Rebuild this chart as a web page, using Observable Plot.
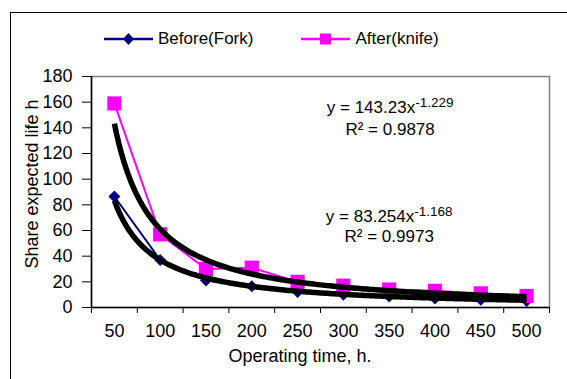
<!DOCTYPE html>
<html>
<head>
<meta charset="utf-8">
<script src="https://cdn.jsdelivr.net/npm/d3@7"></script>
<script src="https://cdn.jsdelivr.net/npm/@observablehq/plot@0.6"></script>
<style>
  html, body { margin: 0; padding: 0; background: #fff; }
  #chart { position: relative; width: 567px; height: 379px; overflow: hidden;
           font-family: "Liberation Sans", Arial, sans-serif; color: #000; }
  #frame { position: absolute; left: 10px; top: 12px; width: 700px; height: 500px;
           border-left: 1px solid #000; border-top: 1px solid #000; }
  #plot svg { position: absolute; left: 0; top: 0; }
  #legend { position: absolute; left: 104px; top: 28px; display: flex; align-items: center;
            font-size: 17px; line-height: 22px; }
  .item { display: flex; align-items: center; margin-right: 48px; }
  .item svg { margin-right: 5px; }
  #ytitle { position: absolute; left: 32px; top: 184px; font-size: 18px; line-height: 20px; white-space: nowrap;
            transform: translate(-50%, -50%) rotate(-90deg); }
  #xtitle { position: absolute; left: 300px; top: 356px; font-size: 18px; line-height: 20px; white-space: nowrap;
            transform: translate(-50%, -50%); }
</style>
</head>
<body>
<div id="chart">
  <div id="frame"></div>
  <div id="plot"></div>
  <div id="legend"></div>
  <div id="ytitle">Share expected life h</div>
  <div id="xtitle">Operating time, h.</div>
</div>
<script>
// Operating time categories (h) and measured share life for each tool
const categories = [50, 100, 150, 200, 250, 300, 350, 400, 450, 500];
const beforeFork = [86.5, 37, 21, 16.5, 12, 10, 8.5, 7, 6, 5];
const afterKnife = [159, 57, 30, 31, 20, 17, 14, 13, 11, 9];
const yTicks = [0, 20, 40, 60, 80, 100, 120, 140, 160, 180];

// Power trendlines y = a·x^b (x = category number 1…10)
const trendNames = ["After(knife)", "Before(Fork)"];
const trendCoef = [143.23, 83.254];
const trendExp = [-1.229, -1.168];
const trendR2 = ["0.9878", "0.9973"];

const navy = "#000080";
const magenta = "#ff00ff";

const points = categories.map((c, i) => ({k: i + 1, before: beforeFork[i], after: afterKnife[i]}));

const curves = trendCoef.flatMap((a, j) =>
  d3.range(1, 10.0001, 0.05).map(k => ({k, v: a * Math.pow(k, trendExp[j]), fit: trendNames[j]}))
);

// equation placement (category position, value) for each trendline label
const labelK = [7.02, 7.0];
const labelV = [[155.5, 138.5], [70.5, 55.5]];
const eqRows = trendCoef.map((a, j) => ({k: labelK[j], v: labelV[j][0], text: `y = ${a}x`, sup: `${trendExp[j]}`}));
const r2Rows = trendR2.map((r, j) => ({k: labelK[j], v: labelV[j][1], text: `R² = ${r}`}));

const plot = Plot.plot({
  width: 567,
  height: 379,
  marginLeft: 91,
  marginRight: 18,
  marginTop: 76,
  marginBottom: 72,
  style: {fontFamily: "'Liberation Sans', Arial, sans-serif", fontSize: "18px", color: "#000", background: "transparent"},
  x: {type: "linear", domain: [0.5, 10.5]},
  y: {domain: [0, 180]},
  marks: [
    Plot.frame({stroke: "#808080", strokeWidth: 1.5}),
    Plot.axisX({ticks: d3.range(1, 11), tickSize: 0, tickPadding: 17,
                tickFormat: k => categories[k - 1], label: null, fontSize: 18}),
    Plot.axisX({ticks: d3.range(0.5, 11, 1), tickSize: 6, tickFormat: () => "", label: null, stroke: "#000"}),
    Plot.axisY({ticks: yTicks, tickSize: 9, tickPadding: 10, label: null, fontSize: 18}),
    Plot.ruleX([0.5], {stroke: "#000", strokeWidth: 1.5}),
    Plot.ruleY([0], {stroke: "#000", strokeWidth: 1.5}),
    Plot.line(points, {x: "k", y: "before", stroke: navy, strokeWidth: 2}),
    Plot.dot(points, {x: "k", y: "before", symbol: "diamond2", r: 5.4, fill: navy, stroke: "none"}),
    Plot.line(points, {x: "k", y: "after", stroke: magenta, strokeWidth: 2}),
    Plot.dot(points, {x: "k", y: "after", symbol: "square", r: 8, fill: magenta, stroke: "none"}),
    Plot.line(curves, {x: "k", y: "v", z: "fit", stroke: "#000", strokeWidth: 5.5, strokeLinecap: "butt"}),
    Plot.text(eqRows, {x: "k", y: "v", text: "text", fontSize: 17, fill: "#000"}),
    Plot.text(r2Rows, {x: "k", y: "v", text: "text", fontSize: 17, fill: "#000"})
  ]
});

// raise the exponent of each power equation
const eqTexts = d3.select(plot).selectAll("text").filter(function() {
  return this.textContent.startsWith("y = ");
});
eqTexts.each(function() {
  const row = eqRows.find(r => r.text === this.textContent);
  if (!row) return;
  d3.select(this).append("tspan")
    .attr("dy", "-0.45em")
    .attr("font-size", 13.5)
    .text(row.sup);
});

document.getElementById("plot").appendChild(plot);

// legend: line with marker, then series name
const legend = d3.select("#legend");
[{name: "Before(Fork)", color: navy, shape: "diamond"}, {name: "After(knife)", color: magenta, shape: "square"}]
  .forEach(s => {
    const item = legend.append("div").attr("class", "item");
    const sw = item.append("svg").attr("width", 49).attr("height", 14);
    sw.append("line").attr("x1", 0).attr("x2", 49).attr("y1", 7).attr("y2", 7)
      .attr("stroke", s.color).attr("stroke-width", 2.5);
    if (s.shape === "diamond") {
      sw.append("path").attr("d", "M24.5,1L30,7L24.5,13L19,7Z").attr("fill", s.color);
    } else {
      sw.append("rect").attr("x", 19).attr("y", 1.5).attr("width", 11).attr("height", 11).attr("fill", s.color);
    }
    item.append("span").text(s.name);
  });
</script>
</body>
</html>
